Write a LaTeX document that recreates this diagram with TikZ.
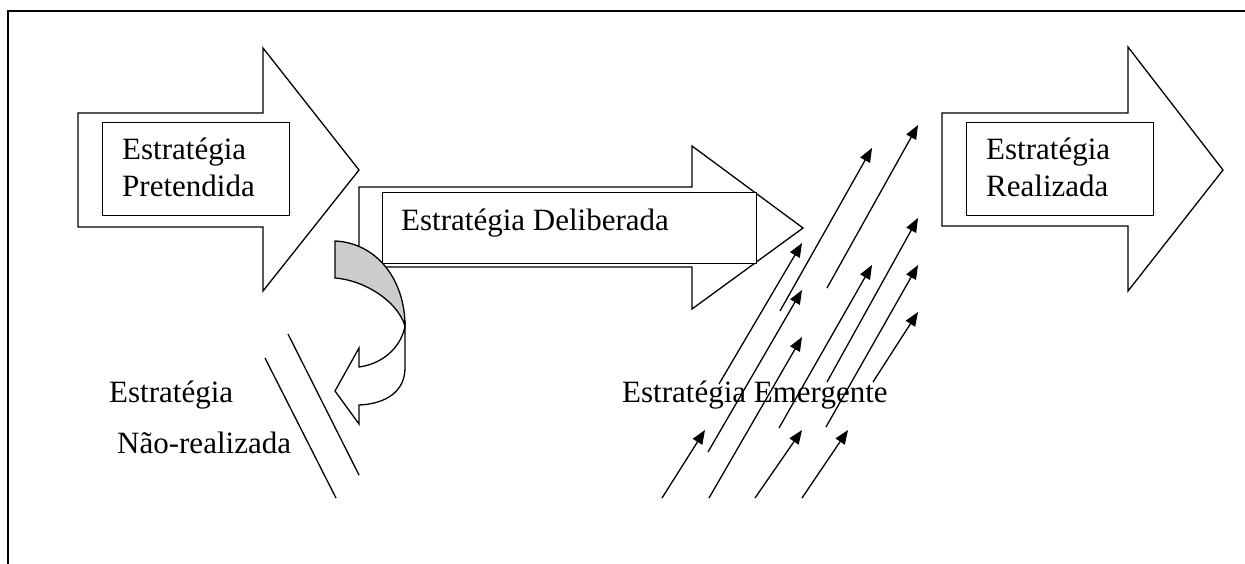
\documentclass[tikz,border=0pt]{standalone}
\usepackage{fontspec}
\setmainfont{Liberation Serif}
\usetikzlibrary{arrows.meta}
\begin{document}
\begin{tikzpicture}[x=1pt,y=-1pt,
  blockarrow/.style={draw=black,line width=1.3pt,fill=white,line join=miter},
  inbox/.style={draw=black,line width=1.3pt,fill=white,inner sep=0pt,anchor=north west},
  lbl/.style={inner sep=0pt,anchor=base west,font=\fontsize{31}{37}\selectfont},
  emarrow/.style={line width=1.3pt,-{Triangle[length=14pt,width=11pt]}},
  barline/.style={line width=1.3pt}]

\useasboundingbox (0,0) rectangle (1245,564);
\draw[line width=1.7pt] (8,564) -- (8,11) -- (1245,11);

% Estrategia Pretendida
\draw[blockarrow] (78,113) -- (263,113) -- (263,48) -- (359,170) -- (263,291) -- (263,227) -- (78,227) -- cycle;
\node[inbox, minimum width=187pt, minimum height=93pt] (pretbox) at (102,122) {};
\node[lbl] (pret1) at (122,160) {Estratégia};
\node[lbl] (pret2) at (122,197) {Pretendida};

% Estrategia Deliberada
\draw[blockarrow] (359,187) -- (692,187) -- (692,146) -- (803,228) -- (692,309) -- (692,267) -- (359,267) -- cycle;
\node[inbox, minimum width=374pt, minimum height=71pt] (delbox) at (382,192) {};
\node[lbl] (del) at (401,231) {Estratégia Deliberada};

% Estrategia Realizada
\draw[blockarrow] (942,113) -- (1128,113) -- (1128,47) -- (1223,170) -- (1128,291) -- (1128,226) -- (942,226) -- cycle;
\node[inbox, minimum width=187pt, minimum height=93pt] (realbox) at (966,122) {};
\node[lbl] (real1) at (986,160) {Estratégia};
\node[lbl] (real2) at (986,197) {Realizada};

% curved arrow (front)
\draw[blockarrow] (405,326) -- (405,368) .. controls (405,392) and (385,404) .. (359,405)
  -- (359,424) -- (335,391) -- (359,348) -- (359,367)
  .. controls (382,364) and (401,348) .. (405,326) -- cycle;
% curved arrow (back, grey)
\draw[blockarrow, fill=gray!40] (335,241) .. controls (377,243) and (405,280) .. (405,326)
  .. controls (397,300) and (363,280) .. (335,278) -- cycle;

% blocked lines
\coordinate (b1s) at (288,334); \coordinate (b1e) at (359,475);
\coordinate (b2s) at (265,358); \coordinate (b2e) at (336,498);
\draw[barline] (b1s) -- (b1e);
\draw[barline] (b2s) -- (b2e);

\node[lbl] (nr1) at (109,402) {Estratégia};
\node[lbl] (nr2) at (117,453) {Não-realizada};

\node[lbl] (emtext) at (622,402) {Estratégia Emergente};

% emergent arrows
\foreach \i/\tx/\ty/\hx/\hy in {
  1/827/288/918/125, 2/780/311/872/148, 3/827/382/918/218, 4/779/428/872/265,
  5/826/427/918/265, 6/873/382/918/312, 7/719/384/802/243, 8/708/452/802/290,
  9/709/498/802/337, 10/662/498/705/430, 11/755/498/802/430, 12/802/498/848/430} {
  \coordinate (t\i) at (\tx,\ty);
  \coordinate (h\i) at (\hx,\hy);
  \draw[emarrow] (t\i) -- (h\i);
}
\end{tikzpicture}
\end{document}
